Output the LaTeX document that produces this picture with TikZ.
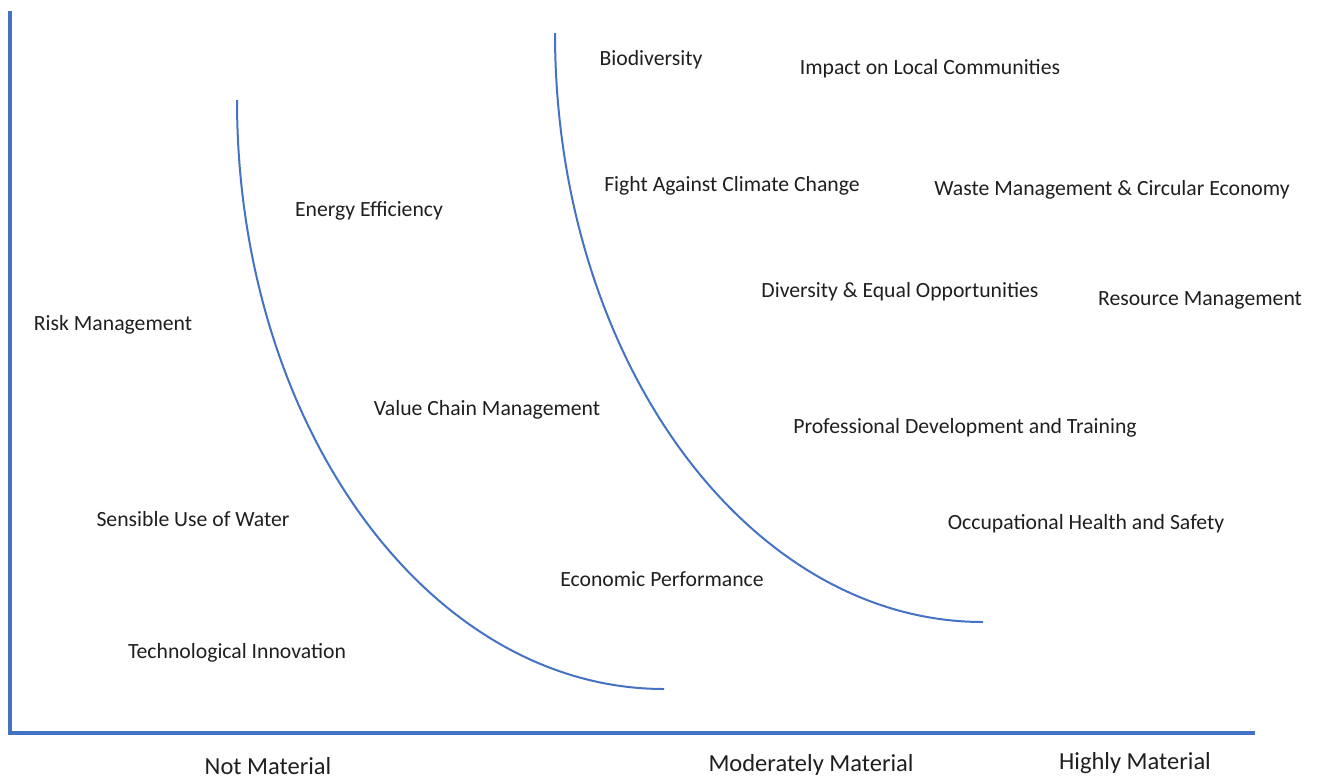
\documentclass[tikz,border=0pt]{standalone}
\usepackage{fontspec}
\setmainfont{Carlito}
\definecolor{axisblue}{RGB}{68,114,196}
\begin{document}
\begin{tikzpicture}[x=1pt,y=-1pt,
  topic/.style={font=\fontsize{21.7}{26}\selectfont, text=black!88, inner sep=0pt, anchor=center, yshift=-2pt},
  axislabel/.style={font=\fontsize{24.5}{29}\selectfont, text=black!88, inner sep=0pt, anchor=center},
  axisline/.style={draw=axisblue, line width=4pt},
  band/.style={draw=axisblue, line width=2pt}]
\useasboundingbox (0,0) rectangle (1321,780);
% axes
\coordinate (top) at (10,11);
\coordinate (origin) at (10,733);
\coordinate (right) at (1255,733);
\draw[axisline] (top) -- (origin) -- (right);
% materiality boundaries
\coordinate (b1s) at (237,100);
\coordinate (b1e) at (664,689);
\coordinate (b2s) at (555,33);
\coordinate (b2e) at (983,622);
\draw[band] (b1s) .. controls (237,425) and (428,689) .. (b1e);
\draw[band] (b2s) .. controls (555,358) and (747,622) .. (b2e);
% topics
\node[topic] (bio) at (651,58) {Biodiversity};
\node[topic] (ilc) at (930,67) {Impact on Local Communities};
\node[topic] (ee) at (369,209) {Energy Efficiency};
\node[topic] (facc) at (732,184) {Fight Against Climate Change};
\node[topic] (wm) at (1112,188) {Waste Management \& Circular Economy};
\node[topic] (deo) at (900,290) {Diversity \& Equal Opportunities};
\node[topic] (rm) at (1200,298) {Resource Management};
\node[topic] (risk) at (113,323) {Risk Management};
\node[topic] (vcm) at (487,408) {Value Chain Management};
\node[topic] (pdt) at (965,426) {Professional Development and Training};
\node[topic] (suw) at (193,517) {Sensible Use of Water};
\node[topic] (ohs) at (1086,522) {Occupational Health and Safety};
\node[topic] (ep) at (662,577) {Economic Performance};
\node[topic] (ti) at (237,651) {Technological Innovation};
% axis categories
\node[axislabel] (nm) at (268,766) {Not Material};
\node[axislabel] (mm) at (811,765) {Moderately Material};
\node[axislabel] (hm) at (1135,763) {Highly Material};
\end{tikzpicture}
\end{document}
